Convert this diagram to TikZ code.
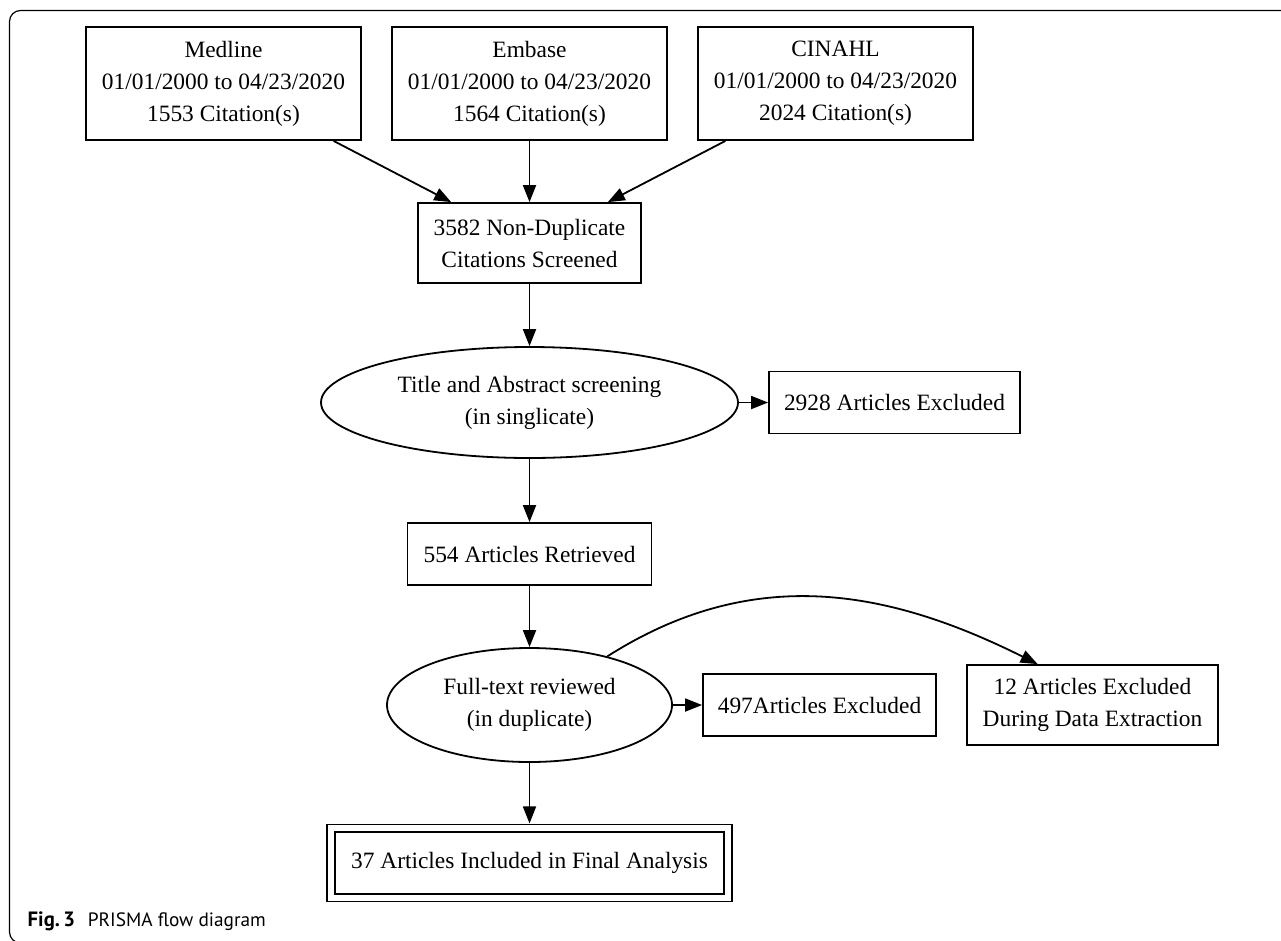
\documentclass[tikz,border=0pt]{standalone}
\usepackage{fontspec}
\usepackage{graphicx}
\setmainfont{Liberation Serif}
\newfontfamily\capfont{PT Sans}
\usetikzlibrary{arrows.meta,shapes.geometric,calc}
\tikzset{
  lw/.style={line width=1.8pt},
  box/.style={draw, lw, rectangle, inner sep=0pt, align=center,
    font=\fontsize{23.4}{32}\selectfont},
  oval/.style={draw, lw, ellipse, inner sep=0pt, align=center,
    font=\fontsize{23.4}{32}\selectfont},
  arr/.style={lw, -{Triangle[length=17pt,width=13pt]}},
  frame/.style={line width=1.2pt, rounded corners=11pt},
  captext/.style={anchor=base west, inner sep=0pt, font=\capfont}
}
\begin{document}
\begin{tikzpicture}[x=1pt,y=-1pt]
\useasboundingbox (0,0) rectangle (1281,940);
\draw[frame] (1295,10.5) -- (9.5,10.5) -- (9.5,943) -- (80,943);

\node[box, minimum width=275pt, minimum height=113pt] (med) at (223.5,83.5) {Medline\\01/01/2000 to 04/23/2020\\1553 Citation(s)};
\node[box, minimum width=275pt, minimum height=113pt] (emb) at (529.5,83.5) {Embase\\01/01/2000 to 04/23/2020\\1564 Citation(s)};
\node[box, minimum width=275pt, minimum height=113pt] (cin) at (835.5,83.5) {CINAHL\\01/01/2000 to 04/23/2020\\2024 Citation(s)};
\node[box, minimum width=223pt, minimum height=80pt] (scr) at (529.5,243) {3582 Non-Duplicate\\Citations Screened};
\node[oval, minimum width=417pt, minimum height=111pt] (ti) at (529.5,402.5) {Title and Abstract screening\\(in singlicate)};
\node[box, minimum width=251pt, minimum height=62pt] (ex1) at (894.5,402.5) {2928 Articles Excluded};
\node[box, minimum width=244pt, minimum height=62pt] (ret) at (529.5,554) {554 Articles Retrieved};
\node[oval, minimum width=285pt, minimum height=114pt] (fu) at (529.5,705) {Full-text reviewed\\(in duplicate)};
\node[box, minimum width=233pt, minimum height=62pt] (ex2) at (819.5,705) {497Articles Excluded};
\node[box, minimum width=251pt, minimum height=80pt] (ex3) at (1092.5,705) {12 Articles Excluded\\During Data Extraction};
\node[box, double, double distance=5.8pt, outer sep=4.8pt, minimum width=397pt, minimum height=69.5pt] (fin) at (529.5,863) {37 Articles Included in Final Analysis};

\draw[arr] (med) -- (scr);
\draw[arr] (emb) -- (scr);
\draw[arr] (cin) -- (scr);
\draw[arr] (scr) -- (ti);
\draw[arr] (ti) -- (ex1);
\draw[arr] (ti) -- (ret);
\draw[arr] (ret) -- (fu);
\draw[arr] (fu) -- (ex2);
\draw[arr] (fu) -- (fin);
\coordinate (e3in) at ($(ex3.north west)!0.283!(ex3.north east)$);
\draw[arr] (fu.32) .. controls (754,563) and (889,590) .. (e3in);

\node[captext] (fig) at (27.5,926) {\resizebox{47.5pt}{!}{\bfseries Fig.\,3}};
\node[captext] (cap) at (87.7,926) {\resizebox{178pt}{!}{PRISMA flow diagram}};
\end{tikzpicture}
\end{document}
